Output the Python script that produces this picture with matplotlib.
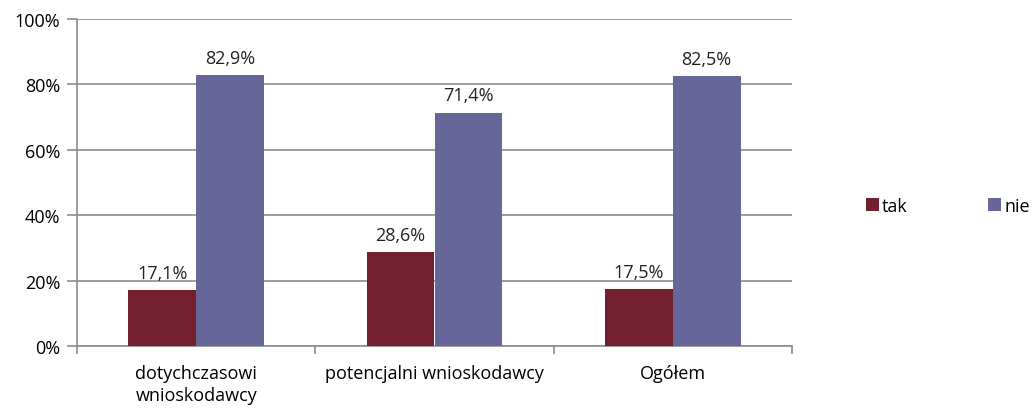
import matplotlib.pyplot as plt
import numpy as np

categories = ["dotychczasowi\nwnioskodawcy", "potencjalni wnioskodawcy", "Ogółem"]
tak = [17.1, 28.6, 17.5]
nie = [82.9, 71.4, 82.5]
series = [("tak", tak, "#722030"), ("nie", nie, "#666699")]

plt.rcParams["font.family"] = ["Open Sans", "DejaVu Sans"]
FS = 13

fig = plt.figure(figsize=(10.34, 4.10), dpi=100)
ax = fig.add_axes([77 / 1034, 1 - 347 / 410, (792 - 77) / 1034, (347 - 20) / 410])

x = np.arange(len(categories))
w = 0.284
for i, (name, vals, col) in enumerate(series):
    pos = x + (i - 0.5) * w
    ax.bar(pos, vals, width=w, color=col, label=name, zorder=3)
    for p, v in zip(pos, vals):
        ax.text(p, v + 2.5, f"{v:.1f}%".replace(".", ","), ha="center", va="bottom",
                fontsize=FS, color="#222222")

ax.set_xlim(-0.5, 2.5)
ax.set_ylim(0, 100)
ax.set_yticks(range(0, 101, 20))
ax.set_yticklabels([f"{t}%" for t in range(0, 101, 20)], fontsize=FS)
ax.yaxis.grid(True, color="#8c8c8c", linewidth=1.2, zorder=0)
ax.set_xticks(x)
ax.set_xticklabels(categories, fontsize=FS, linespacing=1.3)
ax.set_xticks([-0.5, 0.5, 1.5, 2.5], minor=True)
ax.tick_params(axis="x", which="major", length=0, pad=13)
ax.tick_params(axis="x", which="minor", length=6, color="#8c8c8c", width=1.2)
ax.tick_params(axis="y", length=7, color="#8c8c8c", width=1.2, pad=5)
for s in ["top", "right"]:
    ax.spines[s].set_visible(False)
for s in ["left", "bottom"]:
    ax.spines[s].set_color("#8c8c8c")
    ax.spines[s].set_linewidth(1.2)

fig.legend(loc="center left", bbox_to_anchor=(866 / 1034, 1 - 207 / 410), ncol=2,
           frameon=False, fontsize=FS, handlelength=0.7, handleheight=0.7,
           handletextpad=0.2, columnspacing=4.45, borderaxespad=0, borderpad=0)

fig.savefig("out.png", dpi=100)
